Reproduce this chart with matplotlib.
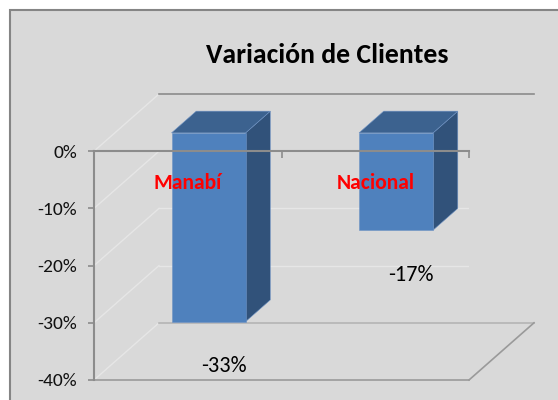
import matplotlib
matplotlib.use("Agg")
import matplotlib.pyplot as plt
from matplotlib.patches import Polygon, Rectangle

# data
categories = ["Manabí", "Nacional"]
values = [-0.33, -0.17]
value_labels = ["-33%", "-17%"]
y_ticks = [0.0, -0.1, -0.2, -0.3, -0.4]
y_tick_labels = ["0%", "-10%", "-20%", "-30%", "-40%"]
title = "Variación de Clientes"

plt.rcParams["font.family"] = ["Carlito", "DejaVu Sans"]
plt.rcParams["font.stretch"] = "condensed"

W, H = 558, 400
fig = plt.figure(figsize=(W / 100, H / 100), dpi=100)
fig.patch.set_facecolor("white")

# chart area with border (runs off the right / bottom edge)
fig.patches.append(Rectangle((10 / W, -0.05), 1.1, 1.05 - 10 / H,
                             transform=fig.transFigure, facecolor="#d9d9d9",
                             edgecolor="#858585", linewidth=1.5, zorder=-1))

# front plane: x 0..2 -> px 94..469, y -0.40..0.10 -> px 380..94
ax = fig.add_axes([94 / W, (H - 380) / H, 375 / W, (380 - 94) / H])
ax.set_xlim(0, 2)
ax.set_ylim(-0.40, 0.10)
ax.patch.set_visible(False)

DX = 65 / 187.5   # horizontal shift of the back wall, in category units
DY = 0.10         # vertical shift of the back wall, in value units
Z0, Z1 = 0.32, 0.70   # depth of bar front / back face
BW = 0.395            # bar width


def proj(x, v, z):
    return (x + z * DX, v + z * DY)


# side wall diagonals and back wall gridlines
for t in y_ticks:
    ax.plot(*zip(proj(0, t, 0), proj(0, t, 1)), color="#e6e6e6", lw=1, zorder=1)
    if -0.4 < t < 0:
        ax.plot(*zip(proj(0, t, 1), proj(2, t, 1)), color="#e6e6e6", lw=1, zorder=1)
# back wall top edge
ax.plot(*zip(proj(0, 0, 1), proj(2, 0, 1)), color="#8c8c8c", lw=1.2, zorder=1,
        clip_on=False)

# floor
floor = [proj(0, -0.4, 0), proj(2, -0.4, 0), proj(2, -0.4, 1), proj(0, -0.4, 1)]
ax.plot(*zip(floor[3], floor[2]), color="#b4b4b4", lw=1.2, zorder=1, clip_on=False)
ax.plot(*zip(floor[1], floor[2]), color="#9a9a9a", lw=1.2, zorder=1, clip_on=False)
ax.plot(*zip(floor[0], floor[1]), color="#9a9a9a", lw=1.2, zorder=1, clip_on=False)

# bars
front_c, top_c, side_c = "#4f81bd", "#3c628f", "#31527a"
for i, v in enumerate(values):
    xc = i + 0.5
    x0, x1 = xc - BW / 2, xc + BW / 2
    front = [proj(x0, 0, Z0), proj(x1, 0, Z0), proj(x1, v, Z0), proj(x0, v, Z0)]
    top = [proj(x0, 0, Z0), proj(x1, 0, Z0), proj(x1, 0, Z1), proj(x0, 0, Z1)]
    side = [proj(x1, 0, Z0), proj(x1, 0, Z1), proj(x1, v, Z1), proj(x1, v, Z0)]
    for pts, c in [(side, side_c), (top, top_c), (front, front_c)]:
        ax.add_patch(Polygon(pts, closed=True, facecolor=c, edgecolor="#6f93c4",
                             linewidth=0.4, zorder=2, clip_on=False))
    # category label inside the bar area
    ax.text(xc, -0.056, categories[i], color="red", fontsize=15.5,
            fontweight="bold", ha="center", va="center", zorder=4)
    # value label below the bar
    vx, vy = proj(xc, v, 0.55)
    ax.text(vx, v + Z0 * DY - 0.078, value_labels[i], color="black", fontsize=16,
            ha="center", va="center", zorder=4)

# axes lines: front 0% line with ticks, and the y-axis
for s in ["top", "right"]:
    ax.spines[s].set_visible(False)
ax.spines["bottom"].set_position(("data", 0))
ax.spines["left"].set_bounds(-0.4, 0)
for s in ["bottom", "left"]:
    ax.spines[s].set_color("#8c8c8c")
    ax.spines[s].set_linewidth(1.5)
    ax.spines[s].set_zorder(3)

ax.set_xticks([0, 1, 2])
ax.set_xticklabels([])
ax.tick_params(axis="x", direction="out", length=5, width=1.2, color="#8c8c8c")
ax.set_yticks(y_ticks)
ax.set_yticklabels(y_tick_labels)
ax.tick_params(axis="y", direction="out", length=4, width=1.2, color="#8c8c8c",
               pad=8, labelsize=14, labelcolor="#111111")

fig.text(327 / W, 1 - 55 / H, title, fontsize=20, fontweight="bold",
         ha="center", va="center", color="black")

fig.savefig("out.png", dpi=100)
